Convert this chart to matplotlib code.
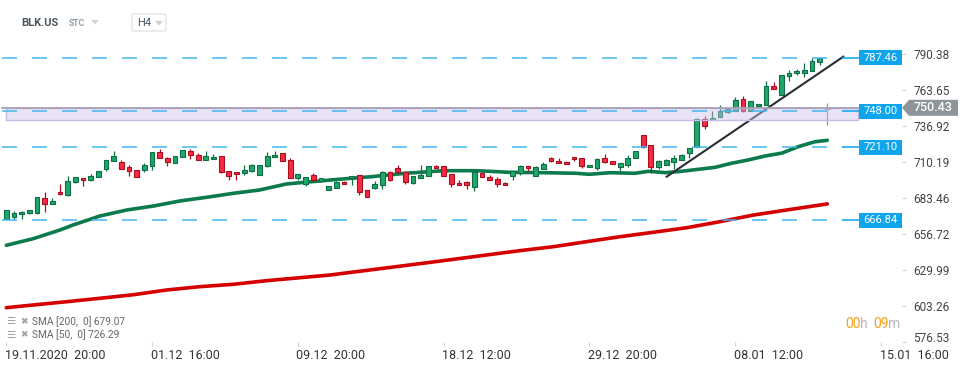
import numpy as np
import matplotlib
matplotlib.use("Agg")
import matplotlib.pyplot as plt
from matplotlib import transforms
from matplotlib.patches import Rectangle, Polygon, FancyBboxPatch

plt.rcParams["font.family"] = ["Roboto", "DejaVu Sans"]
plt.rcParams["lines.scale_dashes"] = False

# H4 candles (open, high, low, close)
opens = [668.12, 669.11, 671.58, 672.08, 672.08, 683.22, 678.76, 687.67, 685.94, 695.59,
         698.07, 696.58, 698.81, 704.75, 710.69, 710.19, 706.23, 704.01, 704.01, 706.98,
         717.37, 712.92, 709.20, 713.66, 718.11, 715.14, 711.43, 712.17, 714.40, 703.26,
         702.52, 701.78, 703.26, 700.29, 706.98, 713.66, 716.63, 711.43, 698.07, 693.61,
         700.29, 695.84, 689.16, 690.64, 695.10, 698.07, 700.29, 689.16, 690.64, 692.87,
         702.52, 705.49, 702.52, 694.35, 698.07, 699.55, 706.98, 706.98, 701.04, 694.35,
         695.10, 691.38, 701.78, 698.81, 697.32, 694.35, 699.55, 701.78, 706.98, 699.55,
         704.75, 712.92, 710.69, 709.95, 713.66, 712.92, 706.23, 705.49, 712.92, 710.69,
         706.72, 708.21, 712.91, 729.99, 722.56, 706.23, 707.71, 709.94, 711.43, 716.62,
         721.08, 741.87, 741.13, 743.35, 747.07, 747.81, 756.72, 747.81, 751.52, 752.26,
         766.37, 759.69, 773.80, 776.02, 776.02, 777.51, 784.19, 749.90]
highs = [674.56, 673.56, 674.06, 674.56, 684.21, 687.92, 683.22, 693.86, 699.80, 699.06,
         698.07, 701.28, 703.51, 711.68, 718.36, 711.68, 707.72, 704.01, 709.20, 717.62,
         719.85, 713.91, 714.40, 718.86, 720.10, 716.63, 718.11, 715.89, 714.90, 703.26,
         702.52, 707.72, 708.46, 707.72, 717.37, 718.11, 716.63, 712.92, 701.04, 698.81,
         701.78, 698.07, 692.13, 695.84, 695.84, 699.55, 700.79, 689.16, 695.84, 703.26,
         703.26, 707.72, 703.26, 699.55, 707.72, 706.98, 707.72, 706.98, 701.04, 696.58,
         695.84, 703.26, 702.52, 700.29, 698.81, 695.10, 703.26, 707.72, 706.98, 706.98,
         709.95, 713.66, 712.92, 710.69, 713.66, 712.92, 707.72, 712.92, 715.89, 710.69,
         709.20, 715.14, 718.11, 729.99, 723.06, 711.43, 712.17, 715.14, 715.88, 720.34,
         742.61, 744.10, 747.81, 752.26, 749.29, 758.20, 758.95, 755.24, 753.01, 770.08,
         769.34, 774.54, 778.25, 778.99, 783.45, 787.16, 787.16, 754.22]
lows = [667.87, 667.87, 668.12, 671.58, 671.83, 673.32, 678.76, 685.94, 685.20, 694.35,
        692.62, 695.84, 698.81, 703.26, 710.69, 704.75, 700.05, 698.81, 703.02, 704.50,
        712.92, 707.47, 709.20, 713.66, 712.17, 711.43, 711.43, 712.17, 701.78, 696.58,
        696.58, 700.29, 702.52, 700.29, 706.23, 713.66, 710.69, 698.07, 696.58, 692.13,
        695.84, 695.10, 689.16, 690.64, 693.61, 692.87, 685.44, 683.96, 689.90, 689.90,
        695.84, 701.78, 693.61, 693.61, 698.07, 699.55, 705.49, 699.55, 691.38, 692.87,
        689.90, 688.41, 698.81, 696.58, 691.38, 692.87, 696.58, 700.29, 703.26, 699.55,
        704.75, 709.95, 709.20, 708.46, 710.69, 705.49, 706.23, 704.01, 709.20, 708.46,
        703.75, 706.72, 712.91, 720.83, 701.77, 704.74, 707.71, 705.24, 711.43, 712.91,
        721.08, 734.44, 741.13, 743.35, 746.33, 747.81, 747.07, 747.81, 751.52, 752.26,
        764.14, 759.69, 770.08, 774.54, 773.05, 777.51, 781.96, 737.44]
closes = [674.31, 672.08, 673.07, 674.31, 683.96, 678.76, 680.99, 686.19, 695.84, 698.81,
          696.58, 699.55, 703.26, 711.43, 714.65, 705.24, 703.26, 698.81, 707.72, 717.37,
          712.92, 709.95, 714.40, 718.86, 715.14, 711.43, 714.40, 713.66, 702.52, 699.55,
          701.04, 704.01, 707.72, 707.72, 714.40, 715.14, 710.69, 698.07, 701.04, 698.81,
          696.58, 698.07, 692.13, 695.10, 693.61, 699.55, 687.67, 683.96, 693.61, 702.52,
          696.58, 702.52, 695.10, 699.55, 700.29, 706.98, 705.49, 699.55, 693.61, 692.87,
          692.87, 702.52, 698.81, 696.58, 693.61, 692.87, 703.26, 706.98, 705.49, 706.23,
          708.46, 710.69, 709.20, 708.46, 712.17, 706.98, 707.72, 712.17, 709.95, 708.46,
          709.20, 712.91, 718.11, 721.57, 706.23, 710.68, 711.43, 712.91, 715.14, 720.34,
          741.87, 736.67, 742.61, 747.81, 749.29, 755.98, 747.81, 755.24, 753.01, 766.37,
          764.14, 774.54, 776.02, 777.51, 778.25, 784.93, 787.16, 750.43]

# moving averages, sampled at candle indices
sma50_idx = [0, 3.5, 7, 8.7, 12.2, 15.7, 19.2, 22.6, 26.1, 29.6, 33, 36.5, 38.9, 43.3, 47.6,
             52, 57, 61.3, 65.6, 70, 74.3, 76, 78.7, 81.9, 83.7, 85.9, 88, 90.2, 92.4, 94.5,
             96.7, 98.9, 101.1, 103.2, 105.4, 107]
sma50_val = [648.34, 653.24, 659.70, 663.41, 670.09, 674.55, 677.52, 681.23, 683.98, 686.95,
             689.40, 693.85, 695.12, 697.34, 699.28, 701.80, 703.73, 703.73, 702.54, 702.25,
             701.80, 701.06, 702.25, 701.80, 703.29, 702.25, 703.29, 704.77, 706.26, 709.23,
             711.72, 714.65, 716.82, 721.55, 725.25, 726.29]
sma200_idx = [0, 3.5, 7.9, 12.2, 16.6, 20.9, 25.2, 29.6, 33.9, 38.3, 42.2, 54.6, 66.9, 71.3,
              75.6, 80, 84.3, 88.7, 93, 97.4, 101.7, 107]
sma200_val = [602.01, 604.01, 606.46, 608.99, 611.66, 615.15, 617.60, 619.38, 622.05, 624.28,
              626.29, 635.20, 644.33, 647.30, 651.01, 654.73, 657.99, 661.41, 665.86, 670.84,
              674.55, 679.07]

trend_idx = [86.07, 109.08]
trend_val = [699.28, 788.38]

levels = [787.46, 748.00, 721.10, 666.84]
zone_top, zone_bottom = 750.5, 741.6
zone_idx = [-0.04, 111.0]
last_price = 750.43

y_ticks = [790.38, 763.65, 736.92, 710.19, 683.46, 656.72, 629.99, 603.26, 576.53]
x_tick_idx = [0, 19, 38, 57, 76, 95, 114]
x_tick_labels = ["19.11.2020  20:00", "01.12  16:00", "09.12  20:00", "18.12  12:00",
                 "29.12  20:00", "08.01  12:00", "15.01  16:00"]

W, H = 970, 368
X0, STEP = 6.3, 7.673          # pixel x of first candle, candle spacing
PL, PR, PT, PB = 0, 902, 40, 342

GREEN, GREEN_EDGE = "#1fa66b", "#0d6e43"
RED, RED_EDGE = "#f72a42", "#a8101f"
GRAY = "#8d9599"
BLUE = "#0ea5ec"

fig = plt.figure(figsize=(W / 100, H / 100), dpi=100)
ax = fig.add_axes([PL / W, 1 - PB / H, (PR - PL) / W, (PB - PT) / H])
ax.set_xlim((PL - X0) / STEP, (PR - X0) / STEP)
ax.set_ylim(576.53, 800.78)
for s in ax.spines.values():
    s.set_visible(False)

ov = fig.add_axes([0, 0, 1, 1], zorder=10)
ov.set_xlim(0, W)
ov.set_ylim(H, 0)
ov.axis("off")
ov.patch.set_alpha(0)
blend = transforms.blended_transform_factory(ov.transData, ax.transData)
ppx = (ax.get_ylim()[1] - ax.get_ylim()[0]) / (PB - PT)   # price per pixel

# candles
o = np.array(opens)
h = np.array(highs)
l = np.array(lows)
c = np.array(closes)
idx = np.arange(len(o))
up = c >= o
fills = np.where(up, GREEN, RED).astype(object)
edges = np.where(up, GREEN_EDGE, RED_EDGE).astype(object)
fills[-1] = GRAY
edges[-1] = GRAY
body_bottom = np.minimum(o, c)
body_h = np.maximum(np.abs(c - o), 0.35)
ax.vlines(idx, l, h, colors=list(edges), lw=0.9, zorder=3)
ax.bar(idx, body_h, bottom=body_bottom, width=0.62, color=list(fills),
       edgecolor=list(edges), linewidth=0.8, zorder=4)

# moving averages
ax.plot(sma200_idx, sma200_val, color="#d40000", lw=2.6, zorder=2, solid_capstyle="round")
ax.plot(sma50_idx, sma50_val, color="#0b7a4c", lw=2.6, zorder=2, solid_capstyle="round")

# trend line
ax.plot(trend_idx, trend_val, color="#2a2d34", lw=1.5, zorder=5)

# zone
ax.add_patch(Rectangle((zone_idx[0], zone_bottom), zone_idx[1] - zone_idx[0],
                       zone_top - zone_bottom, fc="#cdc3eb", alpha=0.45,
                       ec="none", zorder=6))
ax.add_patch(Rectangle((zone_idx[0], zone_bottom), zone_idx[1] - zone_idx[0],
                       zone_top - zone_bottom, fc="none", ec="#c6bae6", lw=1, zorder=6))
ov.plot([2, 858], [zone_top, zone_top], color="#a8a2b8", lw=1.3, transform=blend)

# horizontal levels with price tags
for v in levels:
    ov.plot([2, 843], [v, v], color="#45b6ee", lw=1.1, linestyle=(0, (10.8, 10.8)),
            transform=blend)
    ov.plot([843, 859], [v, v], color=BLUE, lw=1.1, transform=blend)
    ov.add_patch(Rectangle((859, v - 7.5 * ppx), 43, 15 * ppx, fc=BLUE, ec="none",
                           transform=blend))
    ov.text(880.5, v, f"{v:.2f}", transform=blend, ha="center", va="center",
            color="white", fontsize=8)

# current price tag
ov.add_patch(Polygon([(902, last_price), (909, last_price + 8 * ppx),
                      (958, last_price + 8 * ppx), (958, last_price - 8 * ppx),
                      (909, last_price - 8 * ppx)], closed=True, fc=GRAY, ec="none",
                     transform=blend))
ov.text(933, last_price, f"{last_price:.2f}", transform=blend, ha="center", va="center",
        color="white", fontsize=9, fontweight="medium")

# axes ticks
ax.yaxis.tick_right()
ax.set_yticks(y_ticks)
ax.set_yticklabels([f"{v:.2f}" for v in y_ticks])
ax.tick_params(axis="y", length=3, width=0.8, color="#d3d3d3", pad=5,
               labelsize=8.5, labelcolor="#444444")
ax.get_yticklabels()[-1].set_transform(
    ax.get_yticklabels()[-1].get_transform()
    + transforms.ScaledTranslation(0, 0.045, fig.dpi_scale_trans))
ax.set_xticks(x_tick_idx)
ax.set_xticklabels(x_tick_labels, ha="left")
ax.tick_params(axis="x", length=3, width=0.8, color="#d3d3d3", pad=2,
               labelsize=9, labelcolor="#333333")
for lab in ax.get_xticklabels():
    lab.set_transform(lab.get_transform()
                      + transforms.ScaledTranslation(-0.015, 0, fig.dpi_scale_trans))

# header
ov.text(21, 23, "BLK.US", fontsize=8, fontweight="bold", color="#4a5561", va="center")
ov.text(69, 24, "STC", fontsize=6.2, fontweight="bold", color="#8c9db3", va="center")
ov.add_patch(Polygon([(91, 20), (99, 20), (95, 24.5)], fc="#d5d5d5", ec="none"))
ov.add_patch(FancyBboxPatch((132, 14), 34, 17, boxstyle="round,pad=0,rounding_size=2",
                            ec="#dddddd", fc="white", lw=0.8))
ov.text(137, 23, "H4", fontsize=8, color="#4a5561", va="center")
ov.add_patch(Polygon([(155, 21), (163, 21), (159, 25.5)], fc="#d0d0d0", ec="none"))

# indicator legend
legend_rows = [(f"SMA [200,  0] {sma200_val[-1]:.2f}", 321.5),
               (f"SMA [50,  0] {sma50_val[-1]:.2f}", 335)]
for text, y in legend_rows:
    ov.text(6, y, "\u2630", fontsize=7.5, color="#a0a0a0", va="center",
            family="DejaVu Sans")
    ov.text(20, y, "\u2716", fontsize=6.5, color="#a0a0a0", va="center",
            family="DejaVu Sans")
    ov.text(32, y, text, fontsize=7.3, color="#666666", va="center")

# countdown
for txt, x, col in [("00", 845, "#f5a31d"), ("h", 860, "#b8b8b8"),
                    ("09", 873, "#f5a31d"), ("m", 888, "#b8b8b8")]:
    ov.text(x, 323.5, txt, fontsize=10, color=col, va="center")

fig.savefig("out.png", dpi=100, facecolor="white")
